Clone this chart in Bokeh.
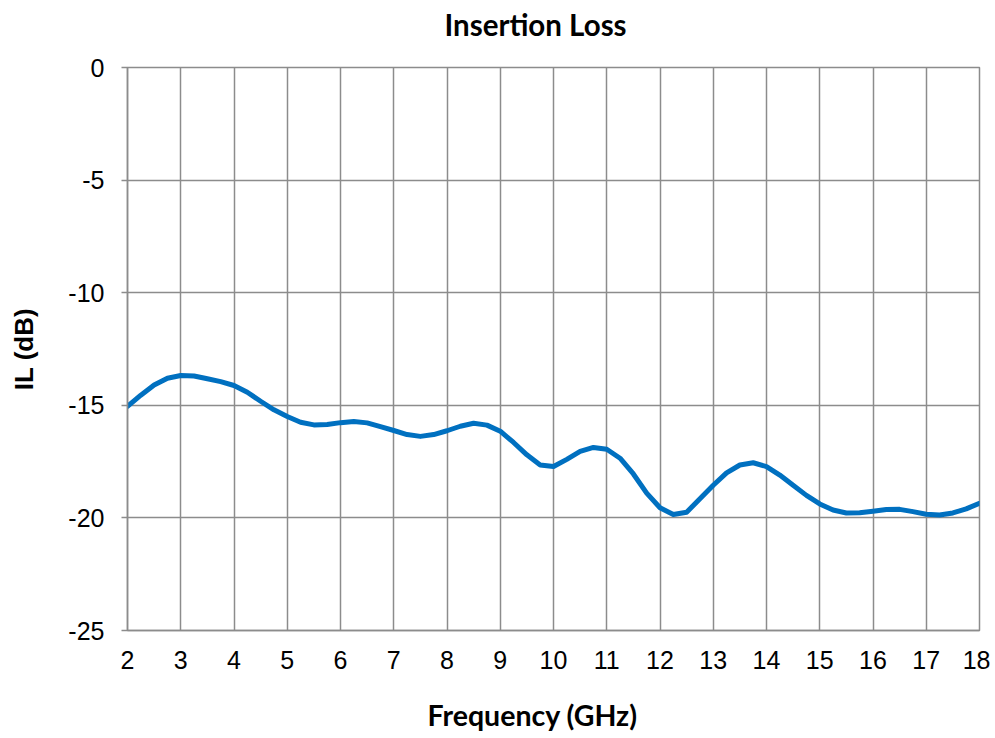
from bokeh.plotting import figure
from bokeh.models import Range1d, FixedTicker, Title, PrintfTickFormatter
from bokeh.embed import file_html
from bokeh.resources import INLINE

freq_ghz = [2.0, 2.25, 2.5, 2.75, 3.0, 3.25, 3.5, 3.75, 4.0, 4.25, 4.5, 4.75,
            5.0, 5.25, 5.5, 5.75, 6.0, 6.25, 6.5, 6.75, 7.0, 7.25, 7.5, 7.75,
            8.0, 8.25, 8.5, 8.75, 9.0, 9.25, 9.5, 9.75, 10.0, 10.25, 10.5, 10.75,
            11.0, 11.25, 11.5, 11.75, 12.0, 12.25, 12.5, 12.75, 13.0, 13.25, 13.5, 13.75,
            14.0, 14.25, 14.5, 14.75, 15.0, 15.25, 15.5, 15.75, 16.0, 16.25, 16.5, 16.75,
            17.0, 17.25, 17.5, 17.75, 18.0]
il_db = [-15.05, -14.55, -14.1, -13.8, -13.68, -13.7, -13.82, -13.95, -14.12, -14.42, -14.82, -15.2,
         -15.5, -15.75, -15.87, -15.85, -15.77, -15.72, -15.78, -15.95, -16.12, -16.3, -16.38, -16.3,
         -16.13, -15.93, -15.8, -15.88, -16.15, -16.65, -17.2, -17.65, -17.72, -17.4, -17.05, -16.87,
         -16.95, -17.35, -18.05, -18.9, -19.55, -19.85, -19.75, -19.15, -18.55, -18.0, -17.65, -17.55,
         -17.72, -18.1, -18.55, -19.0, -19.38, -19.65, -19.78, -19.77, -19.7, -19.63, -19.62, -19.72,
         -19.84, -19.87, -19.78, -19.6, -19.35]
x_ticks = list(range(2, 19))
y_ticks = [0, -5, -10, -15, -20, -25]

grid_color = "#8c8c8c"

p = figure(width=990, height=738, output_backend="svg", toolbar_location=None,
           x_range=Range1d(2, 18), y_range=Range1d(-25, 0),
           min_border_left=127, min_border_right=11, min_border_top=67, min_border_bottom=108)
p.title = None
p.outline_line_color = grid_color
p.outline_line_width = 1.5

# spacer above the frame, then the chart title
p.add_layout(Title(text=" ", text_font="Lato", text_font_size="10px", standoff=10), "above")
p.add_layout(Title(text="Insertion Loss", align="left", offset=317, vertical_align="top",
                   standoff=0, text_font="Lato", text_font_style="bold",
                   text_font_size="29.5px", text_color="black"), "above")

p.xgrid.ticker = FixedTicker(ticks=x_ticks)
p.ygrid.ticker = FixedTicker(ticks=y_ticks)
for g in (p.xgrid, p.ygrid):
    g.grid_line_color = grid_color
    g.grid_line_width = 1.5

p.xaxis.ticker = FixedTicker(ticks=x_ticks)
p.yaxis.ticker = FixedTicker(ticks=y_ticks)
for ax in (p.xaxis, p.yaxis):
    ax.formatter = PrintfTickFormatter(format="%d")
    ax.axis_line_color = grid_color
    ax.axis_line_width = 1.5
    ax.major_tick_line_color = grid_color
    ax.major_tick_line_width = 1.5
    ax.minor_tick_line_color = None
    ax.major_label_text_font = "Liberation Sans"
    ax.major_label_text_font_size = "25px"
    ax.major_label_text_color = "black"
p.xaxis.major_tick_in = 0
p.xaxis.major_tick_out = 0
p.xaxis.major_label_standoff = 20
p.yaxis.major_tick_in = 0
p.yaxis.major_tick_out = 6
p.yaxis.major_label_standoff = 17

# spacer below the x axis, then the x-axis title
p.add_layout(Title(text=" ", text_font="Lato", text_font_size="10px", standoff=12), "below")
p.add_layout(Title(text="Frequency (GHz)", align="left", offset=300, vertical_align="top",
                   standoff=0, text_font="Lato", text_font_style="bold",
                   text_font_size="28.5px", text_color="black"), "below")

p.yaxis.axis_label = "IL (dB)"
p.yaxis.axis_label_text_font = "Liberation Sans"
p.yaxis.axis_label_text_font_style = "bold"
p.yaxis.axis_label_text_font_size = "26px"
p.yaxis.axis_label_text_color = "black"
p.yaxis.axis_label_standoff = 26

p.line(freq_ghz, il_db, line_color="#0070C0", line_width=5, line_join="round", line_cap="round")

open("out.html", "w").write(file_html(p, INLINE))
